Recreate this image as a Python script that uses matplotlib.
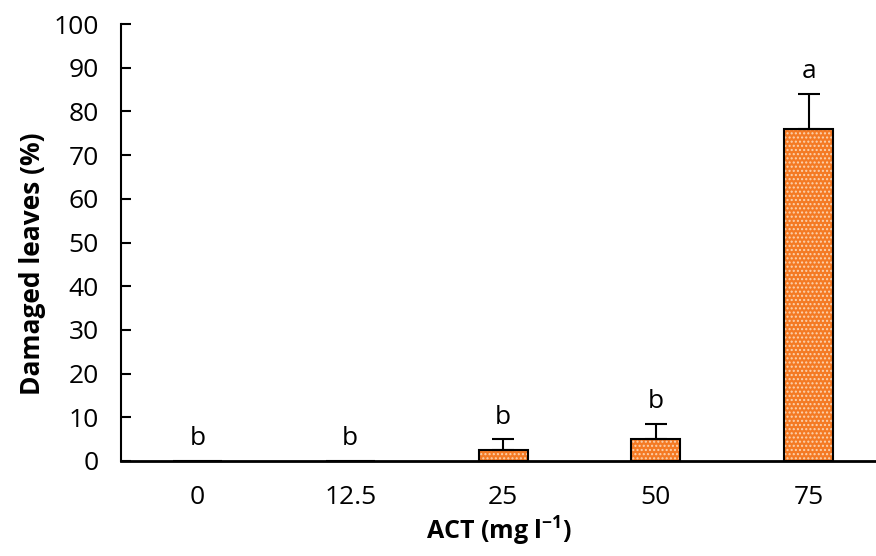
import numpy as np
import matplotlib.pyplot as plt

plt.rcParams['font.family'] = ['Open Sans', 'DejaVu Sans']
plt.rcParams['mathtext.fontset'] = 'custom'
plt.rcParams['mathtext.rm'] = 'Open Sans'
plt.rcParams['mathtext.bf'] = 'Open Sans:bold'

# data
doses = ['0', '12.5', '25', '50', '75']
damaged = [0, 0, 2.5, 5, 76]
err_up = [0, 0, 2.5, 3.5, 8]
letters = ['b', 'b', 'b', 'b', 'a']

fig = plt.figure(figsize=(8.76, 5.56), dpi=100)
ax = fig.add_axes([121 / 876, 1 - 461 / 556, (876 - 121) / 876, (461 - 24) / 556])

x = np.arange(len(doses))
w = 0.32
plt.rcParams['hatch.linewidth'] = 1.0
# dotted fill, then black outline on top
ax.bar(x, damaged, w, color='#F47A24', edgecolor='#FBD3B0', hatch='....', linewidth=0, zorder=2)
ax.bar(x, damaged, w, fill=False, edgecolor='black', linewidth=1.5, zorder=3)

for i in range(len(x)):
    if err_up[i] > 0:
        ax.errorbar(x[i], damaged[i], yerr=[[0], [err_up[i]]], fmt='none',
                    ecolor='black', elinewidth=1.5, capsize=8, capthick=1.5, zorder=4)
    ax.text(x[i], damaged[i] + err_up[i] + 2.2, letters[i], ha='center', va='bottom', fontsize=19)

ax.set_xlim(-0.5, 4.44)
ax.set_ylim(0, 100)
ax.set_yticks(np.arange(0, 101, 10))
ax.set_xticks(x)
ax.set_xticklabels(doses)

for s in ['top', 'right']:
    ax.spines[s].set_visible(False)
ax.spines['left'].set_linewidth(1.5)
ax.spines['bottom'].set_linewidth(2)
ax.tick_params(axis='y', direction='in', length=7, width=1.5, labelsize=19, pad=16)
ax.tick_params(axis='x', length=0, labelsize=19, pad=17)

ax.set_ylabel('Damaged leaves (%)', fontsize=19, fontweight='bold')
ax.yaxis.set_label_coords(-0.099, 0.452)
ax.set_xlabel('ACT (mg l$^{\\mathbf{-1}}$)', fontsize=18, fontweight='bold', labelpad=4)

fig.savefig('out.png', dpi=100)
